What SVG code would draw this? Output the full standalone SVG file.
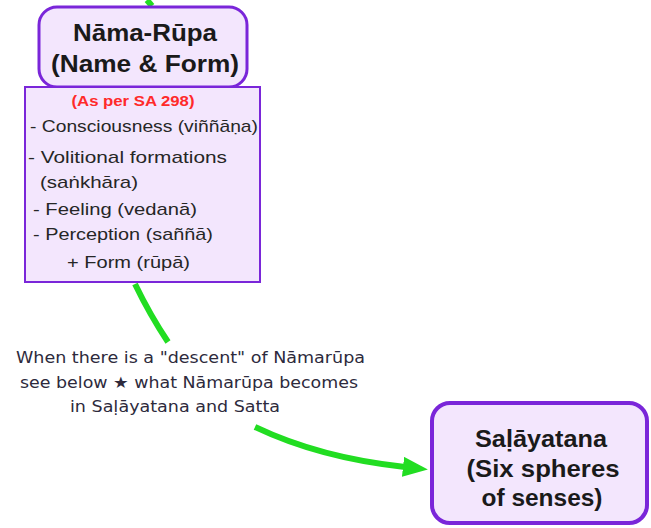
<svg xmlns="http://www.w3.org/2000/svg" width="651" height="528" viewBox="0 0 651 528">
  <style>
    .node { fill: #f3e6fd; stroke: #7a26d9; }
    .title { font-family: "Liberation Sans", Arial, sans-serif; font-weight: bold; font-size: 24px; fill: #1a1a1a; text-anchor: middle; }
    .item { font-family: "Liberation Sans", Arial, sans-serif; font-size: 17px; fill: #262626; }
    .note { font-family: "DejaVu Sans", Verdana, sans-serif; font-size: 16px; fill: #2d2a3c; }
    .link { fill: none; stroke: #22dd22; stroke-width: 6; stroke-linecap: butt; }
  </style>
  <defs>
    <marker id="arrow" markerUnits="userSpaceOnUse" markerWidth="26" markerHeight="22" refX="2" refY="10" orient="auto">
      <path d="M0,0 L25,10 L0,20 Z" fill="#22dd22"/>
    </marker>
  </defs>
  <rect width="651" height="528" fill="#ffffff"/>

  <g id="connectors">
    <path class="link" d="M147,0 L152,6" stroke-width="4"/>
    <path class="link" d="M135,284 Q150,315 168,342"/>
    <path class="link" d="M255,427 Q320,458 405,467" marker-end="url(#arrow)"/>
  </g>

  <g id="nama-rupa">
    <rect class="node" x="39" y="7" width="208" height="80" rx="18" stroke-width="3"/>
    <text class="title" x="145" y="41" textLength="144" lengthAdjust="spacingAndGlyphs">Nāma-Rūpa</text>
    <text class="title" x="145" y="72" textLength="188" lengthAdjust="spacingAndGlyphs">(Name &amp; Form)</text>
  </g>

  <g id="sa298-list">
    <rect class="node" x="25" y="87" width="235" height="195" stroke-width="2"/>
    <text x="133" y="106" font-family="Liberation Sans, Arial, sans-serif" font-size="15" font-weight="bold" fill="#ff2a2a" text-anchor="middle" textLength="123" lengthAdjust="spacingAndGlyphs">(As per SA 298)</text>
    <text class="item" x="30" y="132" textLength="228" lengthAdjust="spacingAndGlyphs">- Consciousness (viññāṇa)</text>
    <text class="item" x="28" y="163" font-size="18" textLength="199" lengthAdjust="spacingAndGlyphs">- Volitional formations</text>
    <text class="item" x="40" y="188" font-size="18" textLength="98" lengthAdjust="spacingAndGlyphs">(saṅkhāra)</text>
    <text class="item" x="33" y="215" textLength="164" lengthAdjust="spacingAndGlyphs">- Feeling (vedanā)</text>
    <text class="item" x="33" y="240" textLength="180" lengthAdjust="spacingAndGlyphs">- Perception (saññā)</text>
    <text class="item" x="67" y="268" textLength="123" lengthAdjust="spacingAndGlyphs">+ Form (rūpā)</text>
  </g>

  <g id="descent-note">
    <text class="note" x="16" y="363" textLength="349" lengthAdjust="spacingAndGlyphs">When there is a "descent" of Nāmarūpa</text>
    <text class="note" x="20" y="388" textLength="338" lengthAdjust="spacingAndGlyphs">see below ★ what Nāmarūpa becomes</text>
    <text class="note" x="70" y="412" textLength="210" lengthAdjust="spacingAndGlyphs">in Saḷāyatana and Satta</text>
  </g>

  <g id="salayatana">
    <rect class="node" x="432" y="403" width="215" height="120" rx="18" stroke-width="4"/>
    <text class="title" x="541" y="447" textLength="132" lengthAdjust="spacingAndGlyphs">Saḷāyatana</text>
    <text class="title" x="543" y="477" textLength="153" lengthAdjust="spacingAndGlyphs">(Six spheres</text>
    <text class="title" x="542" y="506" textLength="121" lengthAdjust="spacingAndGlyphs">of senses)</text>
  </g>
</svg>
